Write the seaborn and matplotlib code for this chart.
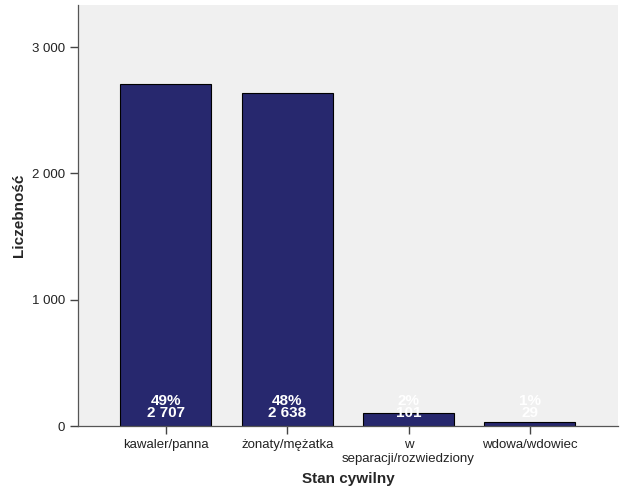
import matplotlib.pyplot as plt
import seaborn as sns
import pandas as pd

# dane
kategorie = ['kawaler/panna', 'żonaty/mężatka', 'w\nseparacji/rozwiedziony', 'wdowa/wdowiec']
liczebnosc = [2707, 2638, 101, 29]

df = pd.DataFrame({'stan': kategorie, 'n': liczebnosc})
suma = sum(liczebnosc)

sns.set_style('white')
plt.rcParams['font.family'] = ['Liberation Sans', 'DejaVu Sans']

fig = plt.figure(figsize=(6.26, 5.01), dpi=100)
ax = fig.add_axes([0.1246, 0.1497, 0.8624, 0.8403])
ax.set_facecolor('#F0F0F0')

sns.barplot(df, x='stan', y='n', color='#27286E', saturation=1, width=0.75,
            edgecolor='black', linewidth=0.8, ax=ax)

for i, v in enumerate(liczebnosc):
    proc = round(v / suma * 100)
    ax.annotate(f'{proc}%\n{v:,}'.replace(',', ' '), (i, 0), xytext=(0, 4),
                textcoords='offset points', ha='center', va='bottom',
                color='white', fontweight='bold', fontsize=11, linespacing=0.85)

ax.set_xlim(-0.725, 3.725)
ax.set_ylim(0, 3333)
ax.set_yticks([0, 1000, 2000, 3000])
ax.set_yticklabels(['0', '1 000', '2 000', '3 000'])

for s in ['top', 'right']:
    ax.spines[s].set_visible(False)
for s in ['left', 'bottom']:
    ax.spines[s].set_color('#555555')
    ax.spines[s].set_linewidth(0.9)

ax.tick_params(axis='both', direction='out', length=6, width=1, color='#444444',
               labelsize=9.5, labelcolor='#222222', bottom=True, left=True)

ax.set_xlabel('Stan cywilny', fontweight='bold', fontsize=11, labelpad=5)
ax.set_ylabel('Liczebność', fontweight='bold', fontsize=11, labelpad=4)

fig.savefig('out.png', dpi=100)
